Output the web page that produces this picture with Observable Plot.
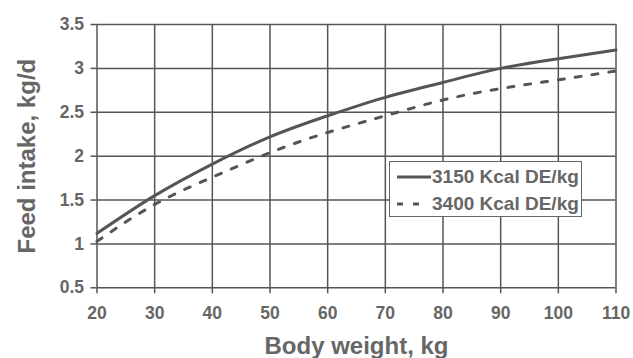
<!DOCTYPE html>
<html>
<head>
<meta charset="utf-8">
<script src="https://cdn.jsdelivr.net/npm/d3@7"></script>
<script src="https://cdn.jsdelivr.net/npm/@observablehq/plot@0.6"></script>
<style>
  html, body { margin: 0; padding: 0; background: #fff; }
  #wrap { position: relative; width: 633px; height: 358px; font-family: "Liberation Sans", Arial, sans-serif; }
  #legend {
    position: absolute; left: 389px; top: 161px; width: 193px; height: 56px;
    background: #fff; border: 1.5px solid #666; box-sizing: border-box;
    font-weight: bold; font-size: 19px; color: #666;
  }
  .row { position: absolute; left: 0; height: 24px; display: flex; align-items: center; white-space: nowrap; }
  .row svg { margin-left: 7px; }
</style>
</head>
<body>
<div id="wrap"></div>
<script>
const bodyWeight = [20, 30, 40, 50, 60, 70, 80, 90, 100, 110];
const intake3150 = [1.12, 1.55, 1.91, 2.22, 2.46, 2.67, 2.84, 3.00, 3.11, 3.21];
const intake3400 = [1.03, 1.45, 1.76, 2.04, 2.27, 2.46, 2.64, 2.77, 2.87, 2.97];
const seriesNames = ["3150 Kcal DE/kg", "3400 Kcal DE/kg"];
const xTicks = [20, 30, 40, 50, 60, 70, 80, 90, 100, 110];
const yTicks = [0.5, 1, 1.5, 2, 2.5, 3, 3.5];

const rows3150 = bodyWeight.map((w, i) => ({w, v: intake3150[i]}));
const rows3400 = bodyWeight.map((w, i) => ({w, v: intake3400[i]}));

const ink = "#555";
const textInk = "#666";

const chart = Plot.plot({
  width: 633,
  height: 358,
  marginLeft: 96.5,
  marginRight: 17.5,
  marginTop: 24,
  marginBottom: 70.7,
  style: {fontFamily: "'Liberation Sans', Arial, sans-serif", fontWeight: "bold", fontSize: "17px", color: textInk, background: "#fff"},
  x: {domain: [20, 110], label: null},
  y: {domain: [0.5, 3.5], label: null},
  marks: [
    Plot.ruleX(xTicks, {stroke: ink, strokeWidth: 1.5}),
    Plot.ruleY(yTicks, {stroke: ink, strokeWidth: 1.5}),
    Plot.axisX({ticks: xTicks, tickFormat: d => String(d), tickSize: 6, tickPadding: 13, stroke: ink, strokeWidth: 1.5, fill: textInk, fontSize: 17.5, label: null}),
    Plot.axisY({ticks: yTicks, tickFormat: d => String(d), tickSize: 6, tickPadding: 7, stroke: ink, strokeWidth: 1.5, fill: textInk, fontSize: 17.5, label: null}),
    Plot.line(rows3400, {x: "w", y: "v", curve: "natural", stroke: ink, strokeWidth: 3, strokeDasharray: "6,11"}),
    Plot.line(rows3150, {x: "w", y: "v", curve: "natural", stroke: ink, strokeWidth: 3}),
    Plot.text(["Body weight, kg"], {frameAnchor: "bottom", dy: 59, fontSize: 24, fill: textInk, fontWeight: "bold", textAnchor: "middle", lineAnchor: "middle"}),
    Plot.text(["Feed intake, kg/d"], {frameAnchor: "left", dx: -70, rotate: -90, fontSize: 24, fill: textInk, fontWeight: "bold", textAnchor: "middle", lineAnchor: "middle"})
  ]
});

const wrap = document.getElementById("wrap");
wrap.appendChild(chart);

const legend = document.createElement("div");
legend.id = "legend";
const samples = [
  {w: 34, dash: null, mr: 1},
  {w: 22, dash: "6,10", mr: 13}
];
seriesNames.forEach((name, i) => {
  const s = samples[i];
  const row = document.createElement("div");
  row.className = "row";
  row.style.top = (i === 0 ? 3 : 30) + "px";
  const dash = s.dash ? `stroke-dasharray="${s.dash}"` : "";
  row.innerHTML = `<svg width="${s.w}" height="6" style="margin-right:${s.mr}px"><line x1="0" y1="3" x2="${s.w}" y2="3" stroke="${ink}" stroke-width="3" ${dash}/></svg><span>${name}</span>`;
  legend.appendChild(row);
});
wrap.appendChild(legend);
</script>
</body>
</html>
